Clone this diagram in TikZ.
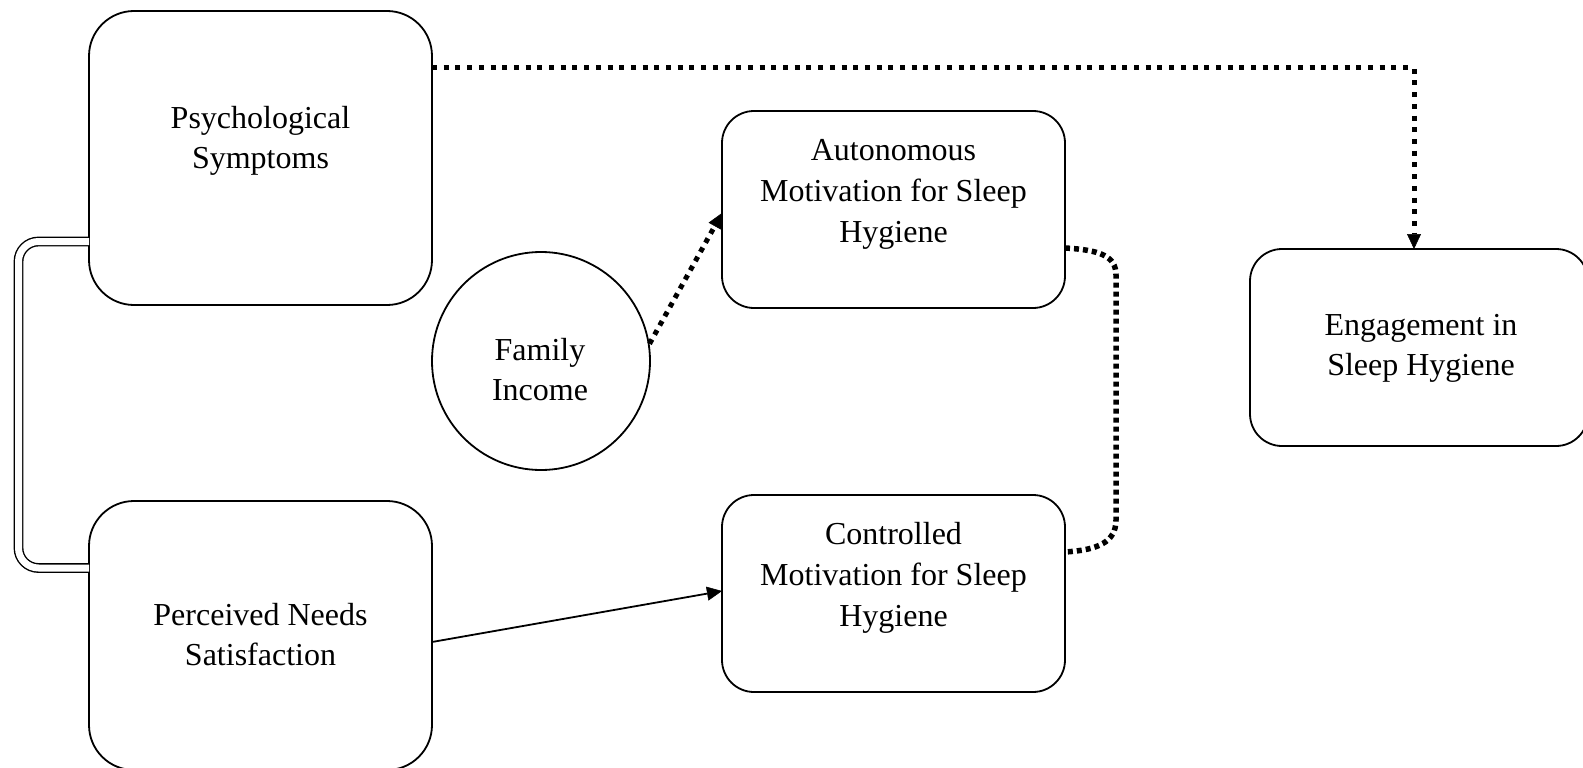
\documentclass[tikz,border=0pt]{standalone}
\usepackage{fontspec}
\setmainfont{Liberation Serif}
\usetikzlibrary{arrows.meta}
\begin{document}
\begin{tikzpicture}[x=1pt,y=-1pt,
  box/.style={draw, line width=1.8pt, inner sep=0pt, outer sep=0pt, minimum width=343pt},
  bigbox/.style={box, rounded corners=45pt},
  smallbox/.style={box, rounded corners=32pt, minimum height=197pt},
  lbl/.style={align=center, inner sep=0pt, font=\fontsize{32}{40}\selectfont},
  lbl3/.style={align=center, inner sep=0pt, font=\fontsize{32}{41}\selectfont},
  tip/.style={-{Triangle[length=15pt,width=14pt,line width=0.5pt]}},
  dots/.style={line width=5.5pt, dash pattern=on 5pt off 4pt},
  wide dots/.style={line width=5pt, dash pattern=on 5pt off 6.7pt},
]
\useasboundingbox (0,0) rectangle (1583,768);

% boxes
\node[bigbox, minimum height=294pt] (psy) at (260.5,158) {};
\node[bigbox, minimum height=269pt] (need) at (260.5,635.5) {};
\node[smallbox] (aut) at (893.5,209.5) {};
\node[smallbox] (ctl) at (893.5,593.5) {};
\node[smallbox, minimum width=338pt] (eng) at (1419,347.5) {};
\node[draw, circle, line width=1.8pt, inner sep=0pt, minimum size=218pt] (fam) at (541,361) {};

% labels
\node[lbl] at (260.5,140.5) {Psychological\\Symptoms};
\node[lbl] at (260.5,635) {Perceived Needs\\Satisfaction};
\node[lbl3] at (893.5,194) {Autonomous\\Motivation for Sleep\\Hygiene};
\node[lbl3] at (893.5,577.5) {Controlled\\Motivation for Sleep\\Hygiene};
\node[lbl] at (1421,348) {Engagement in\\Sleep Hygiene};
\node[lbl] at (540,370) {Family\\Income};

% correlation between the two predictors
\draw[line width=1.4pt, double distance=7pt, rounded corners=20pt]
  ([yshift=-83.5pt]psy.west) -- (18.5,241.5) -- (18.5,568) -- ([yshift=67.5pt]need.west);

% paths
\draw[wide dots, tip] ([yshift=90pt]psy.east) -- ([yshift=90pt]psy.east -| 1414,0) -- ([xshift=-5pt]eng.north);
\draw[line width=5pt, dash pattern=on 5pt off 5.5pt, tip] (fam.9.4) -- ([yshift=-3.5pt]aut.west);
\draw[line width=1.8pt, tip] ([yshift=-6.5pt]need.east) -- ([yshift=2.5pt]ctl.west);
\draw[dots] ([yshift=-38.5pt]aut.east) .. controls (1100,250) and (1116,256) .. (1116,275)
  -- (1116,520) .. controls (1116,542) and (1098,550) .. ([yshift=41.5pt]ctl.east);
\end{tikzpicture}
\end{document}
